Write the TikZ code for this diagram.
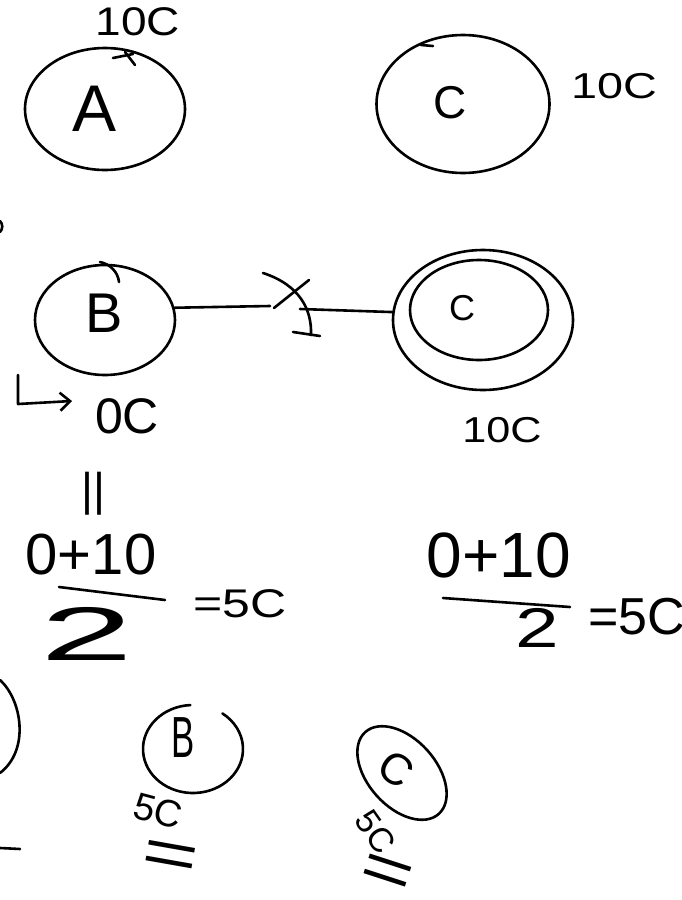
\documentclass[tikz,border=0pt]{standalone}
\usepackage{fontspec}
\setmainfont{Liberation Sans}
\usetikzlibrary{shapes.geometric,arrows.meta}
\newcommand\fsz[1]{\fontsize{#1}{#1}\selectfont}
\tikzset{
  hand/.style={line width=2.6pt, line cap=round, line join=round},
  ring/.style={ellipse, draw, hand, inner sep=0pt},
  txt/.style={inner sep=0pt, outer sep=0pt},
}
\begin{document}
\begin{tikzpicture}[x=1pt,y=-1pt]
\useasboundingbox[fill=white] (0,0) rectangle (682,900);

% --- top row ---
\node[ring, minimum width=160pt, minimum height=122pt] (A) at (105,109) {};
\node[txt, font=\fsz{66}] (Alab) at (95,109) {A};
\node[txt, font=\fsz{40}] (A10) at (138,22) {\scalebox{1.15}[1]{10C}};
\draw[hand] (113,58) -- (133,54);
\draw[hand] (125,52) -- (135,65);

\node[ring, minimum width=173pt, minimum height=138pt] (Ctop) at (463,104) {};
\node[txt, font=\fsz{46}] (Ctoplab) at (450,103) {C};
\draw[hand] (421,45) -- (433,46);
\node[txt, font=\fsz{36}] (C10) at (614,86) {\scalebox{1.3}[1]{10C}};

% --- middle row ---
\draw[hand] (0,221) .. controls (3,224) and (3,229) .. (0,232);
\node[ring, minimum width=140pt, minimum height=110pt] (B) at (105,320) {};
\node[txt, font=\fsz{56}] (Blab) at (104,313) {B};
\draw[hand] (100,262) .. controls (110,264) and (118,272) .. (119,282);

\node[ring, minimum width=180pt, minimum height=140pt] (Cd) at (483,320) {};
\node[ring, minimum width=138pt, minimum height=100pt] (Ci) at (479,310) {};
\node[txt, font=\fsz{36}] (Cdlab) at (462,308) {C};

\coordinate (m1) at (270,306);
\coordinate (m2) at (300,309);
\draw[hand] (B.10) -- (m1);
\draw[hand] (m2) -- (Cd.175);
\draw[hand] (263,273) .. controls (300,285) and (312,310) .. (311,335);
\draw[hand] (274,308) -- (309,280);
\draw[hand] (293,332) -- (320,336);

\coordinate (ar0) at (18,375);
\coordinate (ar1) at (18,404);
\coordinate (ar2) at (72,401);
\draw[hand, -{Straight Barb[length=10pt,width=18pt]}] (ar0) -- (ar1) -- (ar2);
\node[txt, font=\fsz{50}] (B0) at (127,416) {0C};
\node[txt, font=\fsz{36}] (Cd10) at (502,430) {\scalebox{1.2}[1]{10C}};

% --- fractions ---
\node[txt, font=\fsz{46}] (eqv) at (93,494) {||};
\node[txt, font=\fsz{58}] (f1n) at (91,555) {0+10};
\draw[hand] (59,587) -- (165,600);
\node[txt, font=\fsz{76}] (f1d) at (87,634) {\scalebox{2.2}[1]{2}};
\node[txt, font=\fsz{40}] (f1r) at (240,604) {\scalebox{1.25}[1]{=5C}};

\node[txt, font=\fsz{64}] (f2n) at (499,555) {0+10};
\draw[hand] (443,598) -- (570,607);
\node[txt, font=\fsz{56}] (f2d) at (537,628) {\scalebox{1.4}[1]{2}};
\node[txt, font=\fsz{52}, anchor=west] (f2r) at (588,617) {=5C};

% --- bottom row ---
\draw[hand] (0,680) .. controls (22,700) and (30,750) .. (0,773);
\draw[hand] (0,848) -- (20,849);

\node[ellipse, minimum width=100pt, minimum height=88pt, inner sep=0pt] (Bs) at (193,749) {};
\draw[hand] (Bs.center) ++(93:50pt and 44pt) arc[start angle=93, end angle=414, x radius=50pt, y radius=44pt];
\node[txt, font=\fsz{58}] (Bslab) at (183,738) {\scalebox{0.6}[1]{B}};
\node[txt, font=\fsz{38}, rotate=-15] (Bs5) at (158,811) {5C};
\node[txt, font=\fsz{64}, rotate=-10] (Bseq) at (170,860) {\scalebox{1.5}[1]{=}};

\node[ring, minimum width=68pt, minimum height=110pt, rotate=42] (Cs) at (402,773) {};
\node[txt, font=\fsz{44}, rotate=-35] (Cslab) at (396,769) {C};
\node[txt, font=\fsz{34}, rotate=-55] (Cs5) at (376,832) {5C};
\node[txt, font=\fsz{64}, rotate=-18] (Cseq) at (386,876) {\scalebox{1.4}[1]{=}};
\end{tikzpicture}
\end{document}
